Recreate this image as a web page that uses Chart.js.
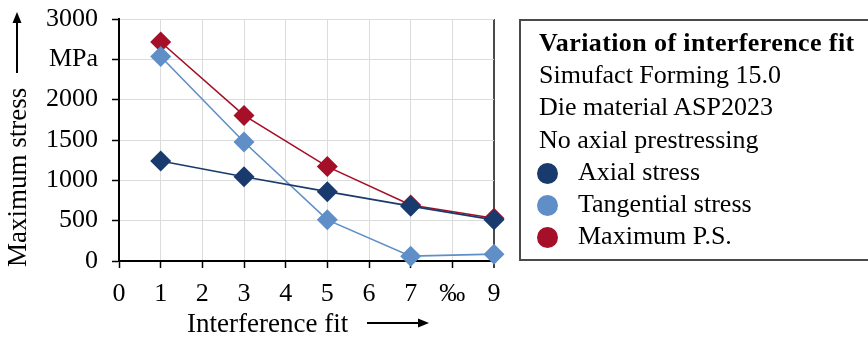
<!DOCTYPE html>
<html>
<head>
<meta charset="utf-8">
<title>Variation of interference fit</title>
<script src="https://cdn.jsdelivr.net/npm/chart.js@4.4.1/dist/chart.umd.min.js"></script>
<style>
    body { margin: 0; background: #fff; }
    #wrap { position: relative; width: 868px; height: 338px; overflow: hidden; }
    #stressChart { position: absolute; left: 0; top: 0; }
    #legendBox {
        position: absolute; left: 519px; top: 19px; width: 380px; height: 232px;
        border: 2px solid #4a4a4a; box-sizing: content-box;
        font-family: "Liberation Serif", "Times New Roman", serif; font-size: 26px;
        line-height: 32.2px; color: #000; padding-top: 6px;
    }
    #legendBox .line { padding-left: 18px; white-space: nowrap; }
    #legendBox .title { font-weight: bold; letter-spacing: 0.4px; }
    #legendBox .item { position: relative; padding-left: 57px; white-space: nowrap; }
    #legendBox .dot {
        position: absolute; left: 16px; top: 7px; width: 21px; height: 21px; border-radius: 50%;
    }
</style>
</head>
<body>
<div id="wrap">
    <canvas id="stressChart" width="868" height="338"></canvas>
    <div id="legendBox"></div>
</div>
<script>
// Stress results per interference fit (‰)
const interferenceFit = [1, 3, 5, 7, 9];
const axialStress = [1240, 1045, 860, 680, 510];
const tangentialStress = [2535, 1475, 510, 60, 85];
const maxPrincipalStress = [2715, 1805, 1170, 695, 530];

const seriesNames = ['Axial stress', 'Tangential stress', 'Maximum P.S.'];
const seriesColors = ['#183a6c', '#5f8fc6', '#a50f27'];
const xTickLabels = ['0', '1', '2', '3', '4', '5', '6', '7', '‰', '9'];
const yTickLabels = { 0: '0', 500: '500', 1000: '1000', 1500: '1500', 2000: '2000', 2500: 'MPa', 3000: '3000' };
const infoLines = ['Simufact Forming 15.0', 'Die material ASP2023', 'No axial prestressing'];

const serif = '"Liberation Serif", "Times New Roman", serif';

function toPoints(values) {
    return interferenceFit.map((x, i) => ({ x: x, y: values[i] }));
}

function makeDataset(label, values, color) {
    return {
        label: label,
        data: toPoints(values),
        borderColor: color,
        backgroundColor: color,
        borderWidth: 1.6,
        pointStyle: 'rectRot',
        pointRadius: 10.5,
        pointBorderWidth: 0,
        pointBackgroundColor: color,
        tension: 0,
        clip: false
    };
}

// axis captions with their arrows
const axisCaptions = {
    id: 'axisCaptions',
    afterDraw(chart) {
        const { ctx, chartArea } = chart;
        ctx.save();
        ctx.fillStyle = '#000';
        ctx.strokeStyle = '#000';
        ctx.font = '27px ' + serif;
        ctx.textBaseline = 'alphabetic';

        // y caption, rotated
        ctx.save();
        ctx.translate(chartArea.left - 93, chartArea.bottom + 6);
        ctx.rotate(-Math.PI / 2);
        ctx.textAlign = 'left';
        ctx.fillText('Maximum stress', 0, 0);
        ctx.restore();

        const ax = chartArea.left - 102;
        ctx.lineWidth = 2;
        ctx.beginPath();
        ctx.moveTo(ax, chartArea.top + 54);
        ctx.lineTo(ax, chartArea.top - 2);
        ctx.stroke();
        ctx.beginPath();
        ctx.moveTo(ax, chartArea.top - 7);
        ctx.lineTo(ax - 4.5, chartArea.top + 4);
        ctx.lineTo(ax + 4.5, chartArea.top + 4);
        ctx.closePath();
        ctx.fill();

        // x caption
        ctx.textAlign = 'left';
        ctx.fillText('Interference fit', chartArea.left + 68, chartArea.bottom + 71);
        const ay = chartArea.bottom + 62;
        ctx.beginPath();
        ctx.moveTo(chartArea.left + 248, ay);
        ctx.lineTo(chartArea.left + 302, ay);
        ctx.stroke();
        ctx.beginPath();
        ctx.moveTo(chartArea.left + 310, ay);
        ctx.lineTo(chartArea.left + 299, ay - 4.5);
        ctx.lineTo(chartArea.left + 299, ay + 4.5);
        ctx.closePath();
        ctx.fill();
        ctx.restore();
    }
};

const chart = new Chart(document.getElementById('stressChart'), {
    type: 'line',
    data: {
        datasets: [
            makeDataset(seriesNames[0], axialStress, seriesColors[0]),
            makeDataset(seriesNames[1], tangentialStress, seriesColors[1]),
            makeDataset(seriesNames[2], maxPrincipalStress, seriesColors[2])
        ]
    },
    options: {
        responsive: false,
        animation: false,
        layout: { padding: { top: 19, right: 374, left: 0, bottom: 0 } },
        plugins: {
            legend: { display: false },
            tooltip: { enabled: false }
        },
        scales: {
            x: {
                type: 'linear',
                min: 0,
                max: 9,
                afterFit: scale => {
                    scale.height = 77;
                    scale.paddingLeft = 0;
                    scale.paddingRight = 0;
                },
                ticks: {
                    stepSize: 1,
                    autoSkip: false,
                    maxRotation: 0,
                    padding: 11,
                    color: '#000',
                    font: { family: serif, size: 26 },
                    callback: value => xTickLabels[value]
                },
                grid: {
                    color: ctx => ctx.tick && ctx.tick.value === 9 ? '#4a4a4a' : (ctx.tick && ctx.tick.value === 0 ? 'rgba(0,0,0,0)' : '#dcdcdc'),
                    lineWidth: ctx => ctx.tick && ctx.tick.value === 9 ? 2 : 1,
                    tickColor: '#000',
                    tickLength: 7,
                    tickWidth: 1.5
                },
                border: { color: '#000', width: 2 }
            },
            y: {
                min: 0,
                max: 3000,
                afterFit: scale => {
                    scale.width = 119;
                    scale.paddingTop = 0;
                    scale.paddingBottom = 0;
                },
                ticks: {
                    stepSize: 500,
                    padding: 14,
                    color: '#000',
                    font: { family: serif, size: 26 },
                    callback: value => yTickLabels[value]
                },
                grid: {
                    color: '#dcdcdc',
                    lineWidth: 1,
                    tickColor: '#000',
                    tickLength: 7,
                    tickWidth: 1.5
                },
                border: { color: '#000', width: 2 }
            }
        }
    },
    plugins: [axisCaptions]
});

// legend box next to the plot
function buildLegend() {
    const box = document.getElementById('legendBox');
    let html = '<div class="line title">Variation of interference fit</div>';
    infoLines.forEach(text => {
        html += '<div class="line">' + text + '</div>';
    });
    chart.data.datasets.forEach(ds => {
        html += '<div class="item"><span class="dot" style="background:' + ds.borderColor + '"></span>' + ds.label + '</div>';
    });
    box.innerHTML = html;
}

buildLegend();
</script>
</body>
</html>
